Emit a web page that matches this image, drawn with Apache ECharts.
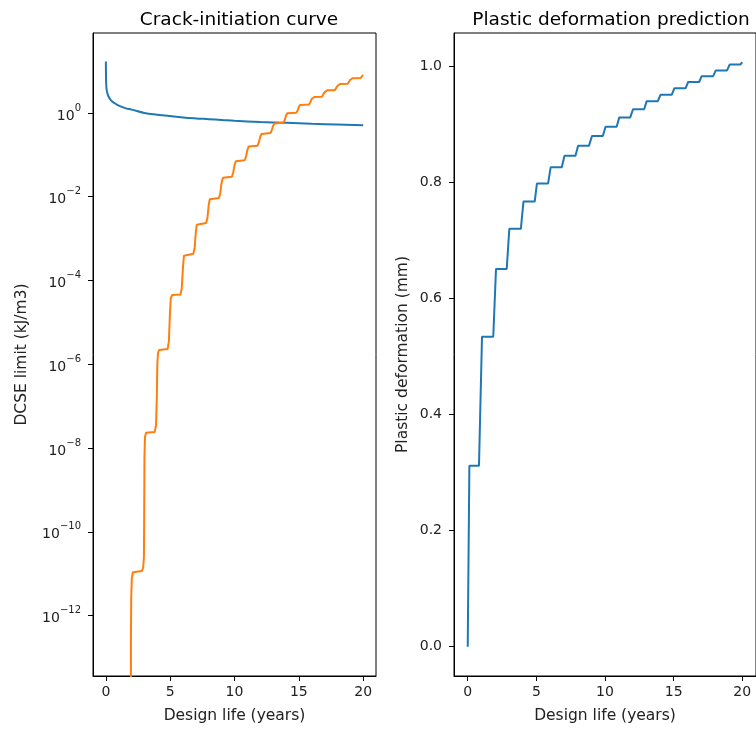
<!DOCTYPE html>
<html>
<head>
<meta charset="utf-8">
<script src="https://cdn.jsdelivr.net/npm/echarts@6/dist/echarts.min.js"></script>
<style>
  html, body { margin: 0; padding: 0; background: #fff; }
  #main { width: 756px; height: 729px; }
</style>
</head>
<body>
<div id="main"></div>
<script>
// tick positions
const xTicks = [0, 5, 10, 15, 20];
const logTicks = [1e-12, 1e-10, 1e-8, 1e-6, 1e-4, 1e-2, 1];
const linTicks = [0, 0.2, 0.4, 0.6, 0.8, 1.0];

// DCSE limit (blue, left)
const dcseLimit = [
  [0, 17], [0.01, 8], [0.03, 4.6], [0.06, 3.6], [0.1, 3.1], [0.2, 2.5], [0.4, 2.0],
  [0.7, 1.7], [1, 1.49], [1.5, 1.3], [2, 1.2], [3, 1.0], [4, 0.91], [5, 0.84],
  [6, 0.78], [7, 0.74], [8, 0.71], [9, 0.68], [10, 0.65], [12, 0.61], [14, 0.58],
  [16, 0.55], [18, 0.53], [20, 0.51]
];

// DCSE accumulated (orange, left)
const dcseDemand = [
  [1.94, 1e-15], [1.95, 3e-13], [1.97, 2.5e-12], [2.02, 8e-12], [2.1, 1.08e-11], [2.8, 1.15e-11],
  [2.9, 1.4e-11], [2.96, 2.5e-11], [2.98, 3e-10], [3.0, 6e-9], [3.04, 1.8e-8], [3.12, 2.3e-8], [3.8, 2.4e-8],
  [3.9, 3.5e-8], [3.96, 1.5e-7], [4.0, 1e-6], [4.06, 1.9e-6], [4.15, 2.2e-6], [4.8, 2.3e-6],
  [4.9, 3.5e-6], [4.98, 1.6e-5], [5.05, 3.8e-5], [5.15, 4.5e-5], [5.8, 4.6e-5],
  [5.9, 6.5e-5], [6.0, 2.2e-4], [6.07, 3.9e-4], [6.18, 4.3e-4], [6.8, 4.35e-4],
  [6.9, 6e-4], [7.0, 1.5e-3], [7.07, 2.15e-3], [7.18, 2.3e-3], [7.8, 2.35e-3],
  [7.9, 3.2e-3], [8.0, 6.5e-3], [8.08, 8.7e-3], [8.2, 9.1e-3], [8.8, 9.3e-3],
  [8.9, 0.0125], [9.0, 0.022], [9.1, 0.0285], [9.2, 0.0295], [9.8, 0.030],
  [9.9, 0.038], [10.0, 0.056], [10.1, 0.070], [10.2, 0.073], [10.8, 0.074],
  [10.9, 0.092], [11.0, 0.13], [11.1, 0.157], [11.2, 0.162], [11.8, 0.165],
  [11.9, 0.2], [12.0, 0.27], [12.1, 0.315], [12.2, 0.324], [12.8, 0.33],
  [12.9, 0.39], [13.0, 0.49], [13.1, 0.56], [13.2, 0.575], [13.8, 0.585],
  [13.9, 0.67], [14.0, 0.86], [14.1, 0.98], [14.2, 1.0], [14.8, 1.01],
  [14.9, 1.13], [15.0, 1.38], [15.1, 1.55], [15.2, 1.58], [15.8, 1.6],
  [15.9, 1.8], [16.0, 2.15], [16.1, 2.36], [16.2, 2.4], [16.8, 2.42],
  [16.9, 2.7], [17.0, 3.1], [17.1, 3.42], [17.2, 3.47], [17.8, 3.5],
  [17.9, 3.9], [18.0, 4.4], [18.1, 4.85], [18.2, 4.9], [18.8, 4.95],
  [18.9, 5.5], [19.0, 6.2], [19.1, 6.7], [19.2, 6.76], [19.8, 6.8],
  [19.9, 7.4], [20.0, 8.1]
];

// plastic deformation (blue, right)
const plasticDef = [
  [0, 0], [0.12, 0.312], [0.82, 0.312], [1.04, 0.534], [1.86, 0.534], [2.06, 0.651],
  [2.84, 0.651], [3.03, 0.72], [3.87, 0.72], [4.06, 0.767], [4.88, 0.767], [5.04, 0.798],
  [5.85, 0.798], [6.04, 0.826], [6.85, 0.826], [7.05, 0.846], [7.85, 0.846], [8.04, 0.863],
  [8.83, 0.863], [9.05, 0.88], [9.84, 0.88], [10.04, 0.896], [10.85, 0.896], [11.04, 0.912],
  [11.84, 0.912], [12.04, 0.926], [12.85, 0.926], [13.04, 0.94], [13.85, 0.94], [14.04, 0.951],
  [14.86, 0.951], [15.05, 0.962], [15.87, 0.962], [16.06, 0.973], [16.86, 0.973], [17.04, 0.983],
  [17.88, 0.983], [18.07, 0.993], [18.89, 0.993], [19.08, 1.003], [19.86, 1.003], [20, 1.007]
];

const FONT = 'DejaVu Sans';
const tickTxt = { color: '#222', fontFamily: FONT, fontSize: 14 };
const nameTxt = { color: '#222', fontFamily: FONT, fontSize: 15.5 };
const titleTxt = { fontFamily: FONT, fontSize: 18.5, fontWeight: 'normal', color: '#000' };

function xAxisCfg(gridIndex) {
  return {
    gridIndex: gridIndex,
    type: 'value',
    min: -1,
    max: 21,
    name: 'Design life (years)',
    nameLocation: 'middle',
    nameGap: 32,
    nameTextStyle: nameTxt,
    axisLine: { onZero: false, lineStyle: { color: '#000' } },
    axisTick: { length: 5, customValues: xTicks, lineStyle: { color: '#000' } },
    axisLabel: Object.assign({ margin: 9, customValues: xTicks }, tickTxt),
    splitLine: { show: false }
  };
}

const chart = echarts.init(document.getElementById('main'), null, { renderer: 'canvas' });

chart.setOption({
  animation: false,
  backgroundColor: '#fff',
  title: [
    { text: 'Crack-initiation curve', left: 234, top: 6, textAlign: 'center', textStyle: titleTxt },
    { text: 'Plastic deformation prediction', left: 606, top: 6, textAlign: 'center', textStyle: titleTxt }
  ],
  grid: [
    { left: 93, top: 33, width: 283, height: 645, show: true, borderColor: '#000', borderWidth: 1 },
    { left: 454, top: 33, width: 304, height: 646, show: true, borderColor: '#000', borderWidth: 1 }
  ],
  xAxis: [xAxisCfg(0), xAxisCfg(1)],
  yAxis: [
    {
      gridIndex: 0,
      type: 'log',
      logBase: 10,
      min: 3.6e-14,
      max: 81,
      name: 'DCSE limit (kJ/m3)',
      nameLocation: 'middle',
      nameGap: 63,
      nameTextStyle: nameTxt,
      axisLine: { onZero: false, lineStyle: { color: '#000' } },
      axisTick: { length: 5, customValues: logTicks, lineStyle: { color: '#000' } },
      axisLabel: Object.assign({
        margin: 12,
        customValues: logTicks,
        formatter: function (v) {
          const e = Math.round(Math.log10(v));
          return '{b|10}{s|' + (e < 0 ? '\u2212' + (-e) : e) + '}';
        },
        rich: {
          b: { fontFamily: FONT, fontSize: 14, color: '#222', lineHeight: 20, verticalAlign: 'bottom' },
          s: { fontFamily: FONT, fontSize: 10, color: '#222', lineHeight: 20, verticalAlign: 'top' }
        }
      }, tickTxt),
      splitLine: { show: false },
      minorTick: { show: false }
    },
    {
      gridIndex: 1,
      type: 'value',
      min: -0.0504,
      max: 1.0574,
      name: 'Plastic deformation (mm)',
      nameLocation: 'middle',
      nameGap: 43,
      nameTextStyle: nameTxt,
      axisLine: { onZero: false, lineStyle: { color: '#000' } },
      axisTick: { length: 5, customValues: linTicks, lineStyle: { color: '#000' } },
      axisLabel: Object.assign({
        margin: 12,
        customValues: linTicks,
        formatter: function (v) { return v.toFixed(1); }
      }, tickTxt),
      splitLine: { show: false }
    }
  ],
  series: [
    { type: 'line', xAxisIndex: 0, yAxisIndex: 0, data: dcseLimit, showSymbol: false, smooth: 0.4,
      lineStyle: { color: '#1f77b4', width: 2 }, itemStyle: { color: '#1f77b4' }, clip: true },
    { type: 'line', xAxisIndex: 0, yAxisIndex: 0, data: dcseDemand, showSymbol: false,
      lineStyle: { color: '#ff7f0e', width: 2 }, itemStyle: { color: '#ff7f0e' }, clip: true },
    { type: 'line', xAxisIndex: 1, yAxisIndex: 1, data: plasticDef, showSymbol: false,
      lineStyle: { color: '#1f77b4', width: 2 }, itemStyle: { color: '#1f77b4' }, clip: true }
  ]
});
</script>
</body>
</html>
